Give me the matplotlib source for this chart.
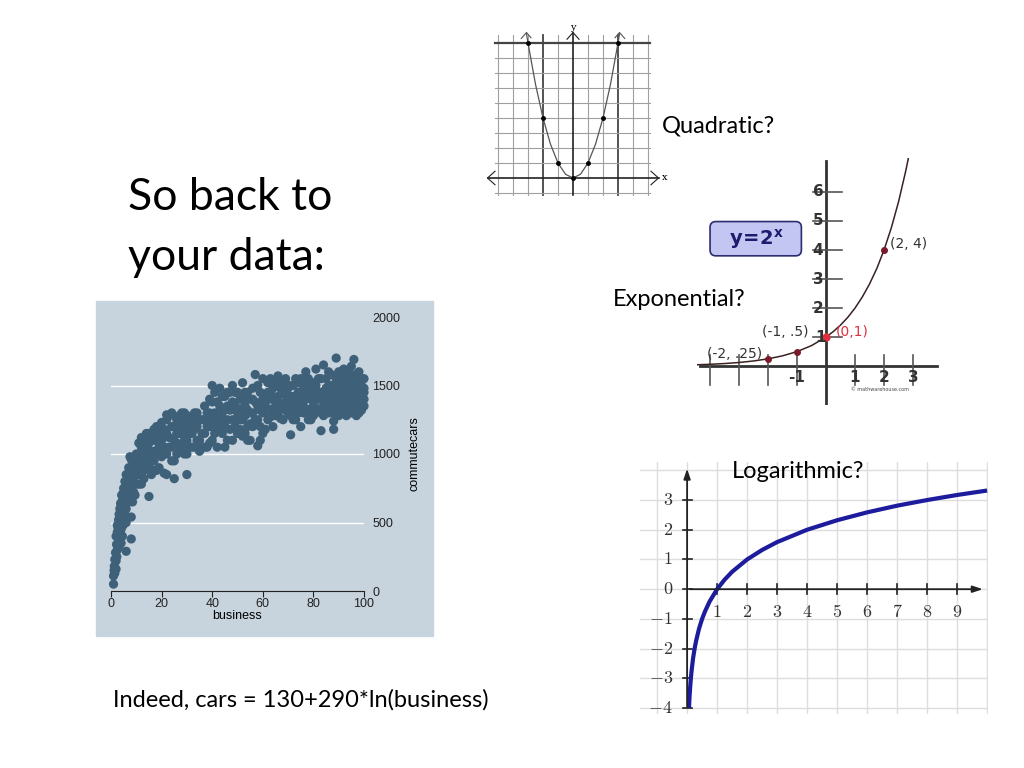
import matplotlib.pyplot as plt
from matplotlib.patches import Rectangle, FancyBboxPatch

# --- scatter: business vs commutecars ---
business = [1, 1, 1.2, 1.5, 1.3, 2, 2, 1.8, 2.2, 2.5, 2, 2.5, 3, 2.8, 3, 3.2, 2.5, 3.5, 1.5, 2.3,
            6, 8, 8,
            3.5, 4, 4, 4.5, 4, 4.5, 5, 5, 5.5, 3.8, 4.2, 5, 6, 6, 6, 5.5, 4.8, 3.3, 6.5, 5.2,
            7, 7, 7.5, 8, 8, 8.5, 9, 9, 7, 6.5, 8, 10, 9.5, 10, 7.5, 9, 10, 8.5, 9.5, 6.8,
            11, 11, 12, 12, 13, 13, 14, 14, 15, 15, 15, 16, 16, 17, 17, 18, 18, 19, 19, 20, 20,
            11, 13, 12, 14, 16, 18, 17, 19, 20, 21, 22, 25, 30, 22,
            22, 22, 23, 24, 24, 25, 26, 26, 27, 28, 28, 29, 30, 30, 31, 32, 33, 33, 34, 35, 35,
            36, 37, 37, 38, 38, 39, 40, 40, 40, 41, 42, 42, 23, 25, 27, 29, 31, 34, 36, 39, 26, 32,
            43, 44, 44, 45, 46, 46, 47, 48, 48, 49, 50, 50, 51, 52, 52, 53, 54, 54, 55, 55, 56,
            57, 57, 58, 58, 59, 60, 60, 60, 45, 47, 49, 51, 53, 56, 59, 42, 50,
            61, 62, 62, 63, 64, 64, 65, 66, 66, 67, 68, 68, 69, 70, 70, 71, 71, 72, 73, 73, 74,
            75, 75, 76, 77, 77, 78, 78, 79, 80, 80, 81, 82, 83, 83, 61, 63, 65, 67, 69, 72, 74,
            76, 79,
            84, 84, 85, 85, 86, 87, 87, 88, 88, 88, 89, 89, 90, 90, 91, 91, 92, 92, 93, 93, 94,
            94, 95, 95, 96, 96, 96, 97, 97, 98, 98, 98, 99, 99, 99, 86, 89, 92, 94, 97, 100, 100,
            95, 91, 85, 90, 93, 97, 99,
            61, 62, 63, 64, 65, 65, 66, 67, 68, 68, 69, 70, 70, 71, 71, 72, 72, 73, 74, 74, 75,
            75, 76, 76, 77, 77, 78, 78, 79, 79, 80, 80, 81, 81, 82, 82, 83, 84, 84, 85, 86, 86,
            87, 87, 88, 88, 89, 89, 90, 90, 91, 91, 92, 92, 93, 93, 94, 94, 95, 95, 96, 96, 97,
            97, 98, 98, 99, 99, 100, 100, 100, 62, 64, 66, 73, 78, 83, 87, 95, 98,
            41, 41, 43, 43, 44, 45, 46, 47, 48, 48, 49, 50, 51, 51, 52, 53, 53, 54, 55, 55, 56,
            56, 57, 58, 58, 59, 59, 60, 44, 46, 52, 54,
            21, 21, 22, 23, 24, 24, 25, 26, 27, 27, 28, 29, 29, 30, 30, 31, 32, 33, 34, 35, 36,
            37, 38, 39, 39, 40, 40, 28, 33, 37,
            10, 11, 11, 12, 12, 13, 14, 14, 15, 15, 16, 16, 17, 17, 18, 18, 19, 20, 13, 12,
            5, 5.5, 6, 6.5, 7, 7, 7.5, 8, 8, 8.5, 9, 4.5, 3.8, 4, 6, 5]
commutecars = [50, 110, 150, 130, 180, 220, 160, 280, 340, 300, 400, 430, 380, 460, 520, 560, 480, 600, 230, 250,
               290, 380, 540,
               420, 350, 450, 400, 550, 600, 650, 520, 700, 640, 700, 750, 600, 680, 760, 560, 480, 330, 720, 620,
               650, 800, 700, 750, 850, 900, 800, 950, 900, 850, 960, 850, 700, 1000, 980, 720, 780, 650, 900, 760,
               900, 1000, 850, 1050, 950, 1100, 900, 1150, 1000, 690, 1080, 850, 1150, 950, 1100, 1000, 1200, 1050, 900, 1100, 1230,
               780, 820, 1120, 1020, 1020, 880, 1180, 1150, 980, 860, 850, 820, 850, 1286,
               1000, 1150, 1050, 1200, 950, 1100, 1250, 1000, 1150, 1050, 1300, 1200, 1100, 1000, 1250, 1150, 1300, 1050, 1200, 1100, 1020,
               1250, 1350, 1150, 1050, 1300, 1200, 1100, 1380, 1500, 1450, 1250, 1050, 1280, 950, 1200, 1000, 1150, 1300, 1050, 1400, 1150, 1250,
               1480, 1300, 1150, 1200, 1350, 1100, 1450, 1250, 1500, 1350, 1150, 1300, 1400, 1250, 1520, 1350, 1200, 1450, 1300, 1100, 1400,
               1580, 1250, 1060, 1350, 1450, 1300, 1150, 1550, 1420, 1320, 1200, 1250, 1150, 1200, 1100, 1380, 1450,
               1350, 1250, 1450, 1550, 1300, 1200, 1400, 1500, 1570, 1350, 1250, 1450, 1550, 1300, 1400, 1140, 1500, 1350, 1250, 1550, 1450,
               1350, 1200, 1500, 1400, 1600, 1300, 1250, 1500, 1450, 1350, 1620, 1400, 1170, 1300, 1180, 1400, 1280, 1480, 1320, 1500, 1300,
               1380, 1400,
               1450, 1650, 1350, 1550, 1300, 1450, 1500, 1400, 1180, 1240, 1700, 1350, 1500, 1600, 1400, 1300, 1550, 1450, 1350, 1500, 1400,
               1600, 1300, 1450, 1550, 1690, 1380, 1480, 1280, 1350, 1600, 1420, 1500, 1400, 1550, 1500, 1450, 1380, 1480, 1580, 1480, 1400,
               1640, 1600, 1420, 1340, 1420, 1360, 1320,
               1420, 1330, 1270, 1480, 1350, 1520, 1420, 1260, 1370, 1520, 1430, 1350, 1480, 1280, 1420, 1420, 1250, 1400, 1370, 1520, 1450,
               1550, 1300, 1430, 1330, 1500, 1420, 1550, 1330, 1250, 1520, 1280, 1400, 1500, 1330, 1550, 1450, 1380, 1280, 1480, 1400, 1600,
               1350, 1580, 1500, 1300, 1550, 1400, 1420, 1280, 1500, 1450, 1320, 1620, 1580, 1280, 1350, 1530, 1500, 1380, 1450, 1320, 1420,
               1530, 1480, 1300, 1450, 1380, 1550, 1350, 1450, 1520, 1420, 1300, 1320, 1480, 1550, 1420, 1580, 1550,
               1300, 1150, 1350, 1200, 1420, 1050, 1250, 1180, 1380, 1100, 1450, 1250, 1180, 1330, 1400, 1280, 1450, 1320, 1400, 1220, 1300,
               1480, 1380, 1250, 1500, 1320, 1200, 1400, 1250, 1450, 1130, 1100,
               1050, 1180, 1250, 1120, 1050, 1300, 1200, 1080, 1280, 1050, 1150, 1100, 1300, 1200, 1280, 1050, 1050, 1180, 1100, 1250, 1150,
               1250, 1200, 1300, 1080, 1250, 1200, 1230, 1230, 1050,
               920, 850, 1080, 950, 1000, 1050, 1050, 980, 920, 1150, 1100, 950, 1020, 880, 1100, 1150, 1000, 1050, 880, 780,
               580, 800, 850, 780, 720, 850, 820, 900, 700, 820, 870, 660, 540, 620, 500, 720]

# --- quadratic example ---
quad_x = [-3.1, -3, -2.5, -2, -1.5, -1, -0.5, 0, 0.5, 1, 1.5, 2, 2.5, 3, 3.1]
quad_y = [9.61, 9, 6.25, 4, 2.25, 1, 0.25, 0, 0.25, 1, 2.25, 4, 6.25, 9, 9.61]
quad_px = [-3, -2, -1, 0, 1, 2, 3]
quad_py = [9, 4, 1, 0, 1, 4, 9]

# --- exponential example y = 2^x ---
exp_x = [-4.5, -4, -3.5, -3, -2.5, -2, -1.5, -1, -0.5, 0, 0.25, 0.5, 0.75, 1, 1.25, 1.5, 1.75, 2, 2.25, 2.5, 2.75, 2.9]
exp_y = [0.044, 0.0625, 0.088, 0.125, 0.177, 0.25, 0.354, 0.5, 0.707, 1, 1.19, 1.414, 1.68, 2, 2.38, 2.83, 3.36, 4, 4.76, 5.66, 6.73, 7.46]
exp_px = [-2, -1, 0, 2]
exp_py = [0.25, 0.5, 1, 4]
exp_labels = ['(-2, .25)', '(-1, .5)', '(0,1)', '(2, 4)']

# --- logarithmic example ---
log_x = [0.0625, 0.08, 0.1, 0.125, 0.15, 0.2, 0.25, 0.3, 0.4, 0.5, 0.6, 0.75, 1, 1.25, 1.5, 2, 2.5, 3, 4, 5, 6, 7, 8, 9, 10]
log_y = [-4, -3.64, -3.32, -3, -2.74, -2.32, -2, -1.74, -1.32, -1, -0.74, -0.415, 0, 0.32, 0.585, 1, 1.32, 1.585, 2, 2.32, 2.585, 2.81, 3, 3.17, 3.32]


def box(l, t, r, b):
    return [l / 1024, 1 - b / 768, (r - l) / 1024, (b - t) / 768]


fig = plt.figure(figsize=(10.24, 7.68), dpi=100)
fig.patch.set_facecolor('white')

# slide texts
slide_font = ['Lato', 'DejaVu Sans']
fig.text(128 / 1024, 1 - 197 / 768, 'So back to', fontsize=32, family=slide_font, va='center')
fig.text(128 / 1024, 1 - 257 / 768, 'your data:', fontsize=32, family=slide_font, va='center')
fig.text(662 / 1024, 1 - 126 / 768, 'Quadratic?', fontsize=17, family=slide_font, va='center')
fig.text(613 / 1024, 1 - 300 / 768, 'Exponential?', fontsize=17, family=slide_font, va='center')
fig.text(113 / 1024, 1 - 700 / 768, 'Indeed, cars = 130+290*ln(business)', fontsize=17, family=slide_font, va='center')

# ---------------- scatter panel ----------------
bg = '#c7d3dd'
fig.patches.append(Rectangle((96 / 1024, 1 - 636 / 768), 337 / 1024, 335 / 768,
                             transform=fig.transFigure, color=bg, zorder=-5))
ax = fig.add_axes(box(111, 317, 364, 591))
ax.set_facecolor('none')
for y in [500, 1000, 1500]:
    ax.axhline(y, color='white', lw=1, zorder=0)
ax.scatter(business, commutecars, s=44, color='#3e6079', edgecolors='none', clip_on=False, zorder=3)
ax.set_xlim(0, 100)
ax.set_ylim(0, 2000)
for s in ['top', 'left', 'right']:
    ax.spines[s].set_visible(False)
ax.spines['bottom'].set_color('#222222')
ax.spines['bottom'].set_linewidth(0.8)
ax.set_xticks([0, 20, 40, 60, 80, 100])
ax.set_yticks([0, 500, 1000, 1500, 2000])
ax.yaxis.tick_right()
ax.yaxis.set_label_position('right')
ax.tick_params(axis='x', length=4, width=0.8, labelsize=9, pad=1, colors='#222222')
ax.tick_params(axis='y', length=0, labelsize=9, pad=6, colors='#222222')
ax.set_xlabel('business', fontsize=9, labelpad=0)
ax.set_ylabel('commutecars', fontsize=9, labelpad=6)
for t in ax.get_xticklabels() + ax.get_yticklabels():
    t.set_family('Liberation Sans')
ax.xaxis.label.set_family('Liberation Sans')
ax.yaxis.label.set_family('Liberation Sans')

# ---------------- quadratic panel ----------------
aq = fig.add_axes(box(483, 19, 670.5, 202))
aq.set_xlim(-6, 6.5)
aq.set_ylim(-1.6, 10.6)
aq.axis('off')
for k in range(-5, 6):
    if k == 0:
        continue
    dark = k in (-2, 3)
    aq.plot([k, k], [-1.15, 9.5], color='#444444' if dark else '#a0a0a0', lw=1.3 if dark else 0.8)
for k in range(-1, 10):
    if k == 0:
        continue
    dark = k == 9
    aq.plot([-5.2, 5.1], [k, k], color='#444444' if dark else '#a0a0a0', lw=1.6 if dark else 0.8)
aq.plot([-5.7, 5.7], [0, 0], color='#222222', lw=1.2)
aq.plot([-5.2, -5.7, -5.2], [0.45, 0, -0.45], color='#222222', lw=0.8)
aq.plot([5.2, 5.7, 5.2], [0.45, 0, -0.45], color='#222222', lw=0.8)
aq.plot([0, 0], [-1.15, 9.7], color='#222222', lw=1.2)
aq.plot([-0.4, 0, 0.4], [9.25, 9.7, 9.25], color='#222222', lw=0.8)
aq.plot(quad_x, quad_y, color='#555555', lw=0.9)
aq.plot([-3.45, -3.1, -2.8], [9.3, 9.7, 9.35], color='#555555', lw=0.8)
aq.plot([2.8, 3.1, 3.45], [9.35, 9.7, 9.3], color='#555555', lw=0.8)
aq.plot(quad_px, quad_py, 'o', color='black', ms=2.5)
aq.text(5.95, 0, 'x', fontsize=7, family='DejaVu Serif', va='center')
aq.text(0, 10.05, 'y', fontsize=7, family='DejaVu Serif', ha='center', va='center')

# ---------------- exponential panel ----------------
ae = fig.add_axes(box(697, 158, 940, 405))
ae.set_xlim(-4.45, 3.93)
ae.set_ylim(-1.34, 7.17)
ae.axis('off')
ae.plot([-4.35, 3.83], [0, 0], color='#333333', lw=2)
ae.plot([0, 0], [-1.3, 7.05], color='#333333', lw=2)
for k in range(1, 7):
    ae.plot([-0.45, 0.55], [k, k], color='#555555', lw=1.2)
for k in [-4, -3, -2, -1, 1, 2, 3]:
    ae.plot([k, k], [-0.65, 0.38], color='#555555', lw=1.2)
for k in range(2, 7):
    ae.text(-0.28, k, str(k), fontsize=11, fontweight='bold', color='#333333', ha='center', va='center')
ae.text(-0.2, 0.97, '1', fontsize=11, fontweight='bold', color='#333333', ha='center', va='center')
for k in [-1, 1, 2, 3]:
    ae.text(k, -0.4, str(k), fontsize=11, fontweight='bold', color='#333333', ha='center', va='center')
ae.plot(exp_x, exp_y, color='#3a2222', lw=1.1)
ae.plot(exp_px[:2] + exp_px[3:], exp_py[:2] + exp_py[3:], 'o', color='#7a1a2a', ms=4)
ae.plot(exp_px[2], exp_py[2], 'o', color='#e03040', ms=5)
ae.text(-2.2, 0.41, exp_labels[0], fontsize=10, color='#333333', ha='right', va='center', clip_on=True)
ae.text(-0.6, 1.17, exp_labels[1], fontsize=10, color='#333333', ha='right', va='center')
ae.text(0.35, 1.17, exp_labels[2], fontsize=10, color='#e03040', ha='left', va='center')
ae.text(2.2, 4.2, exp_labels[3], fontsize=10, color='#333333', ha='left', va='center')
ae.add_patch(FancyBboxPatch((-4.0, 3.8), 3.15, 1.18, boxstyle='round,pad=0,rounding_size=0.2',
                            facecolor='#c3c6f2', edgecolor='#2c2c70', lw=1.2))
ae.text(-2.42, 4.39, r'$\mathbf{y\!=\!2^{x}}$', fontsize=14, color='#1d1d6e', ha='center', va='center')
ae.text(1.85, -0.82, '\u00a9 mathwarehouse.com', fontsize=3.5, color='#444444', ha='center', va='center')

# ---------------- logarithmic panel ----------------
al = fig.add_axes(box(640, 462, 988, 714))
al.set_xlim(-1.57, 10.03)
al.set_ylim(-4.2, 4.28)
al.axis('off')
for k in range(-1, 11):
    al.plot([k, k], [-4.2, 4.28], color='#dddddd', lw=1, zorder=0)
for k in range(-4, 5):
    al.plot([-1.57, 10.03], [k, k], color='#dddddd', lw=1, zorder=0)
al.annotate('', xy=(0, 4.15), xytext=(0, -4.05),
            arrowprops=dict(arrowstyle='-|>,head_length=0.6,head_width=0.2', color='#222222', lw=1.3))
al.annotate('', xy=(9.95, 0), xytext=(0, 0),
            arrowprops=dict(arrowstyle='-|>,head_length=0.6,head_width=0.2', color='#222222', lw=1.3))
for k in range(-4, 4):
    al.plot([-0.15, 0.17], [k, k], color='#222222', lw=1.2)
    al.text(-0.47, k, '$%d$' % k if k >= 0 else r'$-%d$' % -k, fontsize=13, math_fontfamily='cm',
            ha='right', va='center', color='#333333')
for k in range(1, 10):
    al.plot([k, k], [-0.17, 0.17], color='#222222', lw=1.2)
    al.text(k, -0.78, '$%d$' % k, fontsize=13, math_fontfamily='cm', ha='center', va='center', color='#333333')
al.plot(log_x, log_y, color='#1c1c9c', lw=3, solid_capstyle='butt')
fig.text(732 / 1024, 1 - 471 / 768, 'Logarithmic?', fontsize=17, family=slide_font, va='center')

fig.savefig('out.png', dpi=100)
